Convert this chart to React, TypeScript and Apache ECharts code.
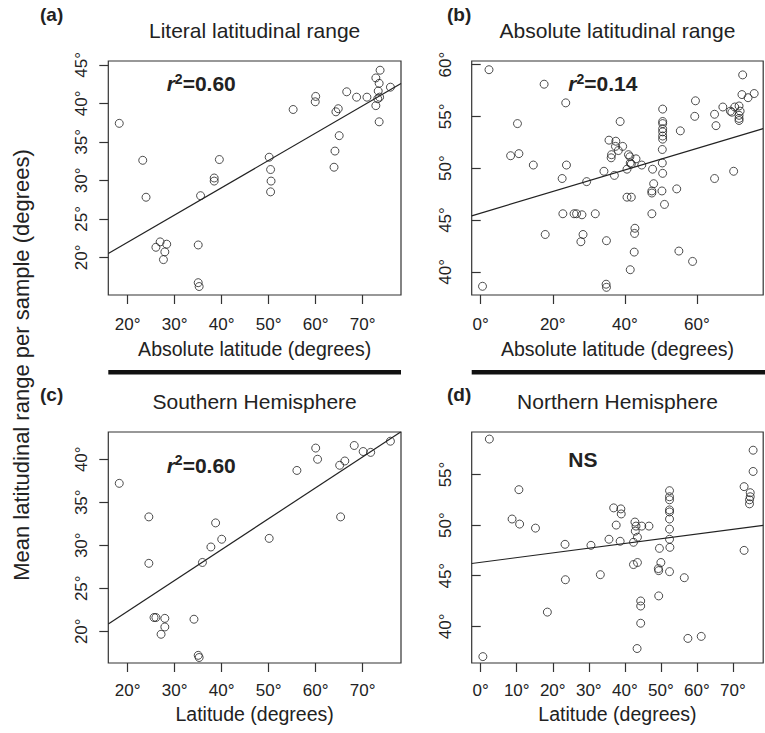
import React, { useEffect, useRef } from "react";
import * as echarts from "echarts";

// ---------- data ----------
const aLatitude = [18.2, 23.2, 23.9, 26.9, 26.0, 28.3, 27.9, 27.6, 35.0, 35.0, 35.2, 35.5, 38.4, 38.4, 39.5, 50.1, 50.4, 50.5, 50.4, 55.2, 59.9, 60.0, 64.3, 64.8, 65.0, 64.1, 63.9, 66.6, 68.7, 70.9, 73.7, 72.8, 73.5, 73.3, 73.6, 73.2, 72.8, 73.5, 75.9];
const aRange = [37.4, 32.6, 27.8, 22.0, 21.3, 21.7, 20.7, 19.7, 21.6, 16.7, 16.2, 28.0, 30.3, 29.9, 32.7, 33.0, 31.4, 29.9, 28.5, 39.2, 40.2, 40.9, 38.9, 39.3, 35.8, 33.8, 31.7, 41.5, 40.8, 40.8, 44.3, 43.3, 42.6, 41.6, 40.8, 40.6, 39.7, 37.6, 42.1];

const bLatitude = [2.3, 0.5, 10.2, 8.3, 10.6, 14.6, 17.6, 17.9, 23.6, 23.8, 22.6, 22.8, 25.9, 26.6, 28.1, 28.4, 27.8, 29.4, 31.8, 34.2, 34.9, 34.8, 34.9, 35.6, 36.3, 36.2, 37.1, 37.5, 37.4, 38.2, 38.7, 39.4, 40.6, 40.6, 41.8, 41.0, 41.4, 41.5, 41.8, 43.1, 42.8, 42.7, 42.6, 41.5, 44.7, 47.7, 48.0, 47.5, 47.5, 47.5, 50.5, 50.5, 50.5, 50.5, 50.5, 50.5, 50.5, 50.4, 50.4, 50.5, 50.3, 51.0, 54.4, 55.4, 55.0, 58.8, 59.6, 59.4, 64.9, 65.3, 64.9, 67.2, 69.7, 69.3, 70.5, 71.7, 72.0, 71.7, 71.7, 71.7, 70.2, 72.7, 72.5, 74.2, 75.9];
const bRange = [59.5, 38.6, 54.3, 51.2, 51.4, 50.3, 58.1, 43.6, 56.3, 50.3, 49.0, 45.6, 45.6, 45.6, 45.5, 43.6, 42.9, 48.7, 45.6, 49.7, 43.0, 38.8, 38.5, 52.7, 51.3, 51.0, 49.3, 52.6, 52.1, 51.7, 54.5, 52.1, 49.9, 47.2, 47.2, 51.3, 51.1, 50.5, 50.4, 50.9, 44.2, 43.7, 41.9, 40.2, 50.3, 49.9, 48.5, 47.8, 47.6, 45.6, 55.7, 54.5, 54.3, 53.8, 53.5, 53.1, 52.8, 51.8, 50.5, 49.5, 47.8, 46.5, 48.0, 53.6, 42.0, 41.0, 56.5, 55.0, 55.2, 54.1, 49.0, 55.9, 55.4, 55.5, 55.9, 56.0, 55.5, 55.1, 54.8, 54.6, 49.7, 59.0, 57.1, 56.8, 57.2];

const cLatitude = [18.2, 24.5, 24.5, 25.6, 26.0, 27.9, 27.9, 27.1, 34.1, 35.0, 35.2, 35.9, 37.7, 40.0, 38.7, 50.1, 56.0, 60.0, 60.4, 65.1, 66.2, 65.3, 68.2, 70.1, 71.7, 75.9];
const cRange = [37.2, 33.3, 27.9, 21.6, 21.6, 21.5, 20.5, 19.65, 21.4, 17.2, 16.95, 28.0, 29.8, 30.7, 32.6, 30.8, 38.7, 41.3, 40.0, 39.3, 39.8, 33.3, 41.6, 40.9, 40.8, 42.1];

const dLatitude = [2.4, 10.6, 8.7, 10.8, 15.2, 23.4, 23.5, 18.5, 30.6, 33.2, 35.6, 36.9, 38.9, 39.0, 37.6, 38.7, 42.4, 42.8, 43.1, 44.7, 46.7, 42.9, 43.5, 42.4, 43.5, 44.4, 44.4, 44.4, 43.4, 49.6, 50.0, 49.3, 49.4, 49.4, 52.4, 52.4, 52.4, 52.4, 52.4, 52.4, 52.4, 52.4, 52.5, 52.4, 56.5, 57.5, 61.2, 73.1, 74.8, 74.8, 74.6, 74.6, 75.6, 75.6, 73.1, 0.6];
const dRange = [58.5, 53.5, 50.6, 50.1, 49.7, 48.1, 44.6, 41.4, 48.0, 45.1, 48.6, 51.7, 51.6, 51.1, 50.0, 48.4, 48.3, 50.3, 49.9, 49.9, 49.9, 49.4, 48.8, 46.1, 46.3, 42.5, 42.0, 40.3, 37.8, 47.7, 46.3, 45.7, 45.5, 43.0, 53.4, 52.8, 52.5, 51.5, 51.3, 50.6, 49.6, 48.6, 47.8, 45.4, 44.8, 38.8, 39.0, 53.8, 53.2, 52.8, 52.5, 52.1, 55.3, 57.4, 47.5, 37.0];

// regression lines (intercept, slope)
const aFit = [14.87, 0.3545];
const bFit = [45.66, 0.104];
const cFit = [15.15, 0.359];
const dFit = [46.32, 0.0466];

// axis limits and tick values
const aLimitsX = [15.87, 78.15];
const aLimitsY = [15.1, 45.5];
const bLimitsX = [-2.5, 78.4];
const bLimitsY = [37.76, 60.34];
const cLimitsX = [15.87, 78.15];
const cLimitsY = [16.31, 43.17];
const dLimitsX = [-2.5, 78.4];
const dLimitsY = [36.37, 59.2];

const aTicksX = [20, 30, 40, 50, 60, 70];
const aTicksY = [20, 25, 30, 35, 40, 45];
const bTicksX = [0, 20, 40, 60];
const bTicksY = [40, 45, 50, 55, 60];
const cTicksX = [20, 30, 40, 50, 60, 70];
const cTicksY = [20, 25, 30, 35, 40];
const dTicksX = [0, 10, 20, 30, 40, 50, 60, 70];
const dTicksY = [40, 45, 50, 55];

const panelLetters = ["(a)", "(b)", "(c)", "(d)"];
const panelTitles = ["Literal latitudinal range", "Absolute latitudinal range", "Southern Hemisphere", "Northern Hemisphere"];
const xTitles = ["Absolute latitude (degrees)", "Absolute latitude (degrees)", "Latitude (degrees)", "Latitude (degrees)"];
const rSquared = ["0.60", "0.14", "0.60", ""];
const nsLabel = "NS";
const yTitle = "Mean latitudinal range per sample (degrees)";

// ---------- layout ----------
const FONT = "'Liberation Sans', Arial, Helvetica, sans-serif";
const INK = "#222";
const GRIDS = [
  { left: 108.3, top: 61, width: 292.7, height: 234 },
  { left: 471.7, top: 61, width: 291.5, height: 234 },
  { left: 108.3, top: 432, width: 292.7, height: 231 },
  { left: 471.7, top: 432, width: 291.5, height: 231 },
];
const TICK_MARGIN = [20.5, 20.5, 18.5, 18.5];
const XTITLE_GAP = [54, 54, 51, 51];
const LETTER_POS = [
  [40, 14],
  [447, 14],
  [40, 394],
  [447, 394],
];
const STAT_POS = [
  [166.7, 83.5],
  [568.3, 83.5],
  [166.7, 465],
  [568.3, 459.5],
];

function zip(xs: number[], ys: number[]) {
  return xs.map((x, i) => [x, ys[i]]);
}

export default function App() {
  const ref = useRef<HTMLDivElement>(null);

  useEffect(() => {
    if (!ref.current) return;
    const chart = echarts.init(ref.current, null, { renderer: "svg" });

    const panels = [
      { x: aLatitude, y: aRange, fit: aFit, lx: aLimitsX, ly: aLimitsY, tx: aTicksX, ty: aTicksY },
      { x: bLatitude, y: bRange, fit: bFit, lx: bLimitsX, ly: bLimitsY, tx: bTicksX, ty: bTicksY },
      { x: cLatitude, y: cRange, fit: cFit, lx: cLimitsX, ly: cLimitsY, tx: cTicksX, ty: cTicksY },
      { x: dLatitude, y: dRange, fit: dFit, lx: dLimitsX, ly: dLimitsY, tx: dTicksX, ty: dTicksY },
    ];

    const deg = (v: number) => `${v}°`;

    const grid = GRIDS.map((g) => ({
      ...g,
      show: true,
      borderColor: "#333",
      borderWidth: 1.2,
      backgroundColor: "transparent",
      containLabel: false,
    }));

    const xAxis = panels.map((p, i) => ({
      type: "value",
      gridIndex: i,
      min: p.lx[0],
      max: p.lx[1],
      axisLine: { show: false },
      splitLine: { show: false },
      axisTick: { show: true, inside: false, length: 9, customValues: p.tx, lineStyle: { color: "#333", width: 1.2 } },
      axisLabel: {
        customValues: p.tx,
        formatter: deg,
        margin: TICK_MARGIN[i],
        fontSize: 17,
        lineHeight: 17,
        color: INK,
        fontFamily: FONT,
      },
    }));

    const yAxis = panels.map((p, i) => ({
      type: "value",
      gridIndex: i,
      min: p.ly[0],
      max: p.ly[1],
      axisLine: { show: false },
      splitLine: { show: false },
      axisTick: { show: true, inside: false, length: 9, customValues: p.ty, lineStyle: { color: "#333", width: 1.2 } },
      axisLabel: {
        customValues: p.ty,
        formatter: deg,
        rotate: 90,
        margin: 18,
        fontSize: 17,
        lineHeight: 17,
        color: INK,
        fontFamily: FONT,
      },
    }));

    const series: any[] = [];
    panels.forEach((p, i) => {
      series.push({
        type: "scatter",
        xAxisIndex: i,
        yAxisIndex: i,
        data: zip(p.x, p.y),
        symbol: "circle",
        symbolSize: 8,
        silent: true,
        itemStyle: { color: "rgba(0,0,0,0)", borderColor: INK, borderWidth: 1 },
        emphasis: { disabled: true },
      });
      series.push({
        type: "line",
        xAxisIndex: i,
        yAxisIndex: i,
        data: [
          [p.lx[0], p.fit[0] + p.fit[1] * p.lx[0]],
          [p.lx[1], p.fit[0] + p.fit[1] * p.lx[1]],
        ],
        showSymbol: false,
        symbol: "none",
        silent: true,
        clip: true,
        lineStyle: { color: INK, width: 1.2 },
        emphasis: { disabled: true },
      });
    });

    const graphic: any[] = [];
    GRIDS.forEach((g, i) => {
      const cx = g.left + g.width / 2;
      const bottom = g.top + g.height;
      graphic.push({
        type: "text",
        x: LETTER_POS[i][0],
        y: LETTER_POS[i][1],
        style: {
          text: panelLetters[i],
          fontSize: 19,
          fontWeight: "bold",
          fontFamily: FONT,
          fill: INK,
          textAlign: "left",
          align: "left",
          textVerticalAlign: "middle",
          verticalAlign: "middle",
        },
      });
      graphic.push({
        type: "text",
        x: cx,
        y: g.top - 31,
        style: {
          text: panelTitles[i],
          fontSize: 21,
          fontFamily: FONT,
          fill: INK,
          textAlign: "center",
          align: "center",
          textVerticalAlign: "middle",
          verticalAlign: "middle",
        },
      });
      graphic.push({
        type: "text",
        x: cx,
        y: bottom + XTITLE_GAP[i],
        style: {
          text: xTitles[i],
          fontSize: 19.5,
          fontFamily: FONT,
          fill: INK,
          textAlign: "center",
          align: "center",
          textVerticalAlign: "middle",
          verticalAlign: "middle",
        },
      });
      const stat = rSquared[i] ? `{r|r}{s|2}{n|=${rSquared[i]}}` : `{n|${nsLabel}}`;
      graphic.push({
        type: "text",
        x: STAT_POS[i][0],
        y: STAT_POS[i][1],
        style: {
          text: stat,
          fontFamily: FONT,
          fill: INK,
          textAlign: "left",
          align: "left",
          textVerticalAlign: "middle",
          verticalAlign: "middle",
          rich: {
            r: { fontSize: 21, fontStyle: "italic", fontWeight: "bold", fontFamily: FONT, lineHeight: 24, fill: INK },
            s: { fontSize: 14, fontWeight: "bold", fontFamily: FONT, lineHeight: 14, verticalAlign: "top", fill: INK },
            n: { fontSize: 21, fontWeight: "bold", fontFamily: FONT, lineHeight: 24, fill: INK },
          },
        },
      });
      if (i < 2) {
        graphic.push({
          type: "rect",
          shape: { x: g.left, y: 370, width: g.width + (i === 1 ? 2 : 0), height: 4.5 },
          style: { fill: "#111" },
        });
      }
    });
    graphic.push({
      type: "text",
      x: 21,
      y: 365,
      rotation: Math.PI / 2,
      style: {
        text: yTitle,
        fontSize: 22,
        fontFamily: FONT,
        fill: INK,
        textAlign: "center",
        align: "center",
        textVerticalAlign: "middle",
        verticalAlign: "middle",
      },
    });

    chart.setOption({
      animation: false,
      backgroundColor: "#fff",
      grid,
      xAxis,
      yAxis,
      series,
      graphic,
    });

    return () => chart.dispose();
  }, []);

  return (
    <div
      ref={ref}
      style={{ position: "absolute", left: 0, top: 0, width: 765, height: 733 }}
    />
  );
}
